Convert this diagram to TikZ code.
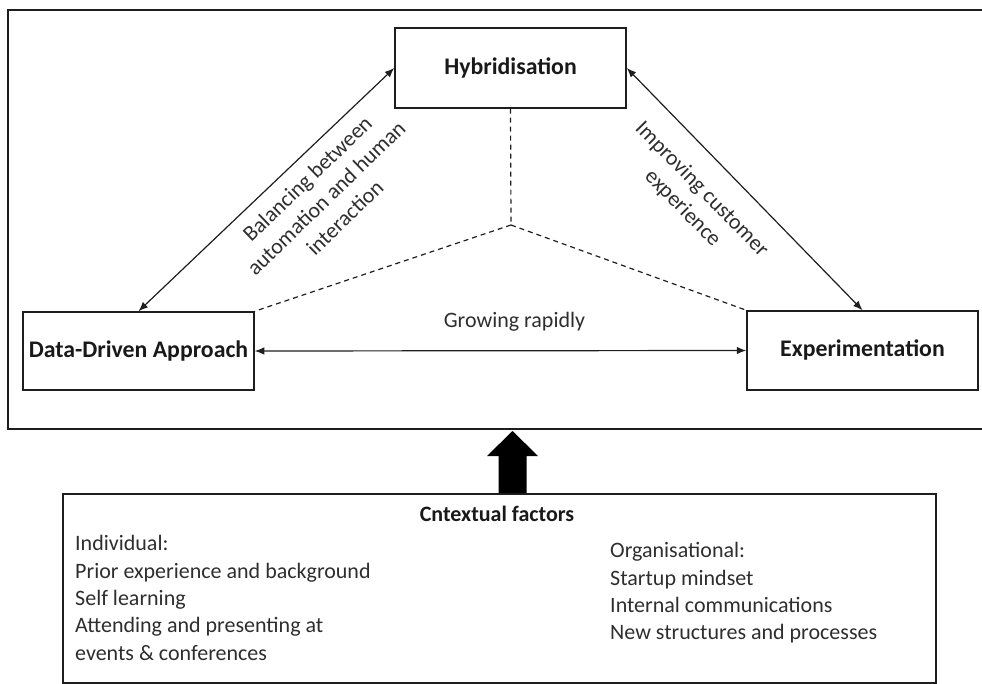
\documentclass[tikz,border=0pt]{standalone}
\usepackage{fontspec}
\setmainfont{Carlito}
\usetikzlibrary{arrows.meta}
\definecolor{txt}{HTML}{2E2E2E}
\definecolor{ln}{HTML}{1E1E1E}
\begin{document}
\begin{tikzpicture}[x=1pt,y=-1pt,
  frame/.style={draw=ln, line width=1.8pt, inner sep=0pt},
  box/.style={draw=ln, line width=1.5pt, inner sep=0pt, minimum width=231pt,
    font=\fontsize{23.8}{27}\selectfont\bfseries, text=black!90},
  lbl/.style={font=\fontsize{22}{27}\selectfont, text=txt, align=center, inner sep=0pt},
  body/.style={font=\fontsize{22}{27.3}\selectfont, text=txt, align=left, inner sep=0pt},
  dual/.style={{Latex[length=9.5pt,width=7.5pt]}-{Latex[length=9.5pt,width=7.5pt]}, line width=1.2pt, draw=ln},
  dsh/.style={draw=ln, line width=1.2pt, dash pattern=on 5pt off 4pt}]
\useasboundingbox (0,0) rectangle (982,684);
% frames
\node[frame, minimum width=982pt, minimum height=419pt] (outer) at (499,219.5) {};
\node[frame, line width=1.5pt, minimum width=873pt, minimum height=189pt] (ctx) at (499.5,588.5) {};
% boxes
\node[box, minimum height=80pt] (hyb) at (510.5,68) {Hybridisation};
\node[box, minimum height=78pt] (data) at (138.5,351) {Data-Driven Approach};
\node[box, minimum height=79pt] (exp) at (862.5,350.5) {Experimentation};
% dashed centre
\coordinate (mid) at (511,225);
\draw[dsh] (hyb.south) -- (mid);
\draw[dsh] (mid) -- (data.north east);
\draw[dsh] (mid) -- (exp.north west);
% arrows
\draw[dual] (hyb.west) -- (data.north);
\draw[dual] (hyb.east) -- (exp.north);
\draw[dual] (data.east) -- (exp.west);
% labels
\node[lbl, rotate=44] (l1) at (326,198) {Balancing between\\automation and human\\interaction};
\node[lbl, rotate=-45.4] (l2) at (692,199) {Improving customer\\experience};
\node[lbl, anchor=base] (l3) at (514.5,327) {Growing rapidly};
% big arrow
\coordinate (tip) at (512.5,431);
\fill[black] (tip) -- ++(25.5,25) -- ++(-11.5,0) -- ++(0,37) -- ++(-28,0) -- ++(0,-37) -- ++(-11.5,0) -- cycle;
% contextual factors
\node[lbl, anchor=base, font=\fontsize{22}{27}\selectfont\bfseries, text=black!90] (ctitle) at (497,521) {Cntextual factors};
\node[body, anchor=north west] (indiv) at (75,535.5) {Individual:\\Prior experience and background\\Self learning\\Attending and presenting at\\events \& conferences};
\node[body, anchor=north west] (org) at (610,542.5) {Organisational:\\Startup mindset\\Internal communications\\New structures and processes};
\end{tikzpicture}
\end{document}
